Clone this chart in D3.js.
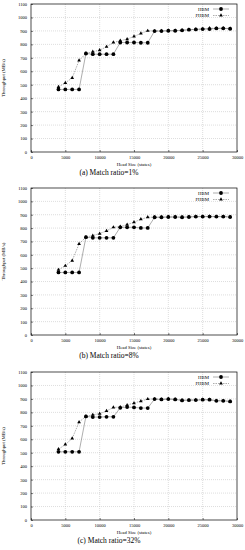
<!DOCTYPE html>
<html>
<head>
<meta charset="utf-8">
<script src="https://cdn.jsdelivr.net/npm/d3@7"></script>
<style>
  body { margin: 0; background: #fff; }
  svg { display: block; }
</style>
</head>
<body>
<div id="chart"></div>
<script>
const W = 245, H = 550;

// head sizes (states)
const sizes = [4000, 5000, 6000, 7000, 8000, 9000, 10000, 11000, 12000, 13000,
               14000, 15000, 16000, 17000, 18000, 19000, 20000, 21000, 22000,
               23000, 24000, 25000, 26000, 27000, 28000, 29000];

const xTicks = [0, 5000, 10000, 15000, 20000, 25000, 30000];
const yTicks = [0, 100, 200, 300, 400, 500, 600, 700, 800, 900, 1000, 1100];

// (a) match ratio 1%
const hbm1  = [465, 465, 465, 465, 732, 727, 727, 727, 727, 814, 814, 814, 812, 812,
               899, 899, 901, 901, 904, 909, 911, 914, 914, 919, 919, 916];
const fhbm1 = [484, 514, 551, 680, 732, 745, 757, 782, 814, 827, 839, 859, 881, 901,
               899, 900, 902, 902, 905, 909, 912, 914, 920, 919, 920, 917];

// (b) match ratio 8%
const hbm2  = [468, 468, 468, 468, 732, 727, 727, 727, 727, 806, 806, 806, 801, 801,
               881, 881, 883, 883, 881, 883, 886, 886, 886, 886, 886, 883];
const fhbm2 = [488, 518, 557, 682, 732, 744, 759, 779, 806, 811, 826, 844, 866, 881,
               881, 882, 883, 883, 882, 884, 886, 886, 887, 886, 886, 883];

// (c) match ratio 32%
const hbm3  = [507, 507, 507, 507, 770, 765, 765, 767, 767, 834, 839, 837, 832, 832,
               899, 896, 899, 896, 889, 891, 891, 894, 894, 886, 886, 881];
const fhbm3 = [526, 561, 606, 728, 770, 782, 790, 810, 837, 839, 854, 869, 884, 899,
               899, 897, 900, 897, 890, 891, 892, 894, 894, 887, 886, 881];

const captions = ["(a) Match ratio=1%", "(b) Match ratio=8%", "(c) Match ratio=32%"];

const panels = [
  { hbm: hbm1, fhbm: fhbm1, caption: captions[0], top: 4,   bottom: 152 },
  { hbm: hbm2, fhbm: fhbm2, caption: captions[1], top: 188, bottom: 335 },
  { hbm: hbm3, fhbm: fhbm3, caption: captions[2], top: 372, bottom: 520 }
];

const left = 31, right = 237,
      font = "'Liberation Serif', 'DejaVu Serif', serif",
      lineColor = "#777";

const svg = d3.select("#chart").append("svg")
    .attr("width", W)
    .attr("height", H);

const x = d3.scaleLinear([0, 30000], [left, right]);

panels.forEach(function(p) {
  const y = d3.scaleLinear([0, 1100], [p.bottom, p.top]);
  const g = svg.append("g").attr("font-family", font);

  // grid
  g.append("g")
      .selectAll("line.gx")
      .data(xTicks.slice(1, -1))
      .join("line")
      .attr("x1", function(d) { return x(d); })
      .attr("x2", function(d) { return x(d); })
      .attr("y1", p.top).attr("y2", p.bottom)
      .attr("stroke", "#bbb").attr("stroke-width", 0.5)
      .attr("stroke-dasharray", "1,1");
  g.append("g")
      .selectAll("line.gy")
      .data(yTicks.slice(1, -1))
      .join("line")
      .attr("x1", left).attr("x2", right)
      .attr("y1", function(d) { return y(d); })
      .attr("y2", function(d) { return y(d); })
      .attr("stroke", "#bbb").attr("stroke-width", 0.5)
      .attr("stroke-dasharray", "1,1");

  // axes (inward ticks like gnuplot)
  g.append("g")
      .attr("transform", `translate(0,${p.bottom})`)
      .call(d3.axisBottom(x).tickValues(xTicks).tickSize(-2).tickPadding(4).tickFormat(d3.format("d")))
      .call(function(a) {
        a.select(".domain").remove();
        a.selectAll("text").attr("font-size", 4.5).attr("font-family", font);
        a.selectAll("line").attr("stroke-width", 0.5);
      });
  g.append("g")
      .attr("transform", `translate(${left},0)`)
      .call(d3.axisLeft(y).tickValues(yTicks).tickSize(-2).tickPadding(4).tickFormat(d3.format("d")))
      .call(function(a) {
        a.select(".domain").remove();
        a.selectAll("text").attr("font-size", 4.5).attr("font-family", font);
        a.selectAll("line").attr("stroke-width", 0.5);
      });

  g.append("rect")
      .attr("x", left).attr("y", p.top)
      .attr("width", right - left).attr("height", p.bottom - p.top)
      .attr("fill", "none").attr("stroke", "#000").attr("stroke-width", 0.7);

  // labels
  g.append("text")
      .attr("x", x(15000)).attr("y", p.bottom + 14)
      .attr("text-anchor", "middle").attr("font-size", 4.8)
      .text("Head Size (states)");
  g.append("text")
      .attr("transform", `translate(5,${(p.top + p.bottom) / 2}) rotate(-90)`)
      .attr("text-anchor", "middle").attr("font-size", 4.8)
      .text("Throughput (MB/s)");
  g.append("text")
      .attr("x", 109).attr("y", p.bottom + 23)
      .attr("text-anchor", "middle").attr("font-size", 7.5)
      .text(p.caption);

  const line = d3.line()
      .x(function(d, i) { return x(sizes[i]); })
      .y(function(d) { return y(d); });

  g.append("path")
      .datum(p.hbm)
      .attr("d", line)
      .attr("fill", "none").attr("stroke", lineColor).attr("stroke-width", 0.6);
  g.append("path")
      .datum(p.fhbm)
      .attr("d", line)
      .attr("fill", "none").attr("stroke", lineColor).attr("stroke-width", 0.6)
      .attr("stroke-dasharray", "1.5,1");

  g.append("g")
      .selectAll("circle")
      .data(p.hbm)
      .join("circle")
      .attr("cx", function(d, i) { return x(sizes[i]); })
      .attr("cy", function(d) { return y(d); })
      .attr("r", 1.9)
      .attr("fill", "#000");

  const tri = d3.symbol().type(d3.symbolTriangle).size(6);
  g.append("g")
      .selectAll("path")
      .data(p.fhbm)
      .join("path")
      .attr("transform", function(d, i) { return `translate(${x(sizes[i])},${y(d)})`; })
      .attr("d", tri)
      .attr("fill", "#000");

  // legend
  const lg = g.append("g").attr("font-size", 4.8).attr("text-anchor", "end");
  const items = [
    { name: "HBM", dash: null, mark: "circle" },
    { name: "FHBM", dash: "1.5,1", mark: "tri" }
  ];
  items.forEach(function(it, i) {
    const ly = p.top + 5 + i * 6.5;
    lg.append("text").attr("x", 209).attr("y", ly + 1.6).text(it.name);
    lg.append("line")
        .attr("x1", 213).attr("x2", 229).attr("y1", ly).attr("y2", ly)
        .attr("stroke", lineColor).attr("stroke-width", 0.6)
        .attr("stroke-dasharray", it.dash);
    if (it.mark === "circle") {
      lg.append("circle").attr("cx", 221).attr("cy", ly).attr("r", 1.9).attr("fill", "#000");
    } else {
      lg.append("path").attr("transform", `translate(221,${ly})`).attr("d", tri).attr("fill", "#000");
    }
  });
});
</script>
</body>
</html>
